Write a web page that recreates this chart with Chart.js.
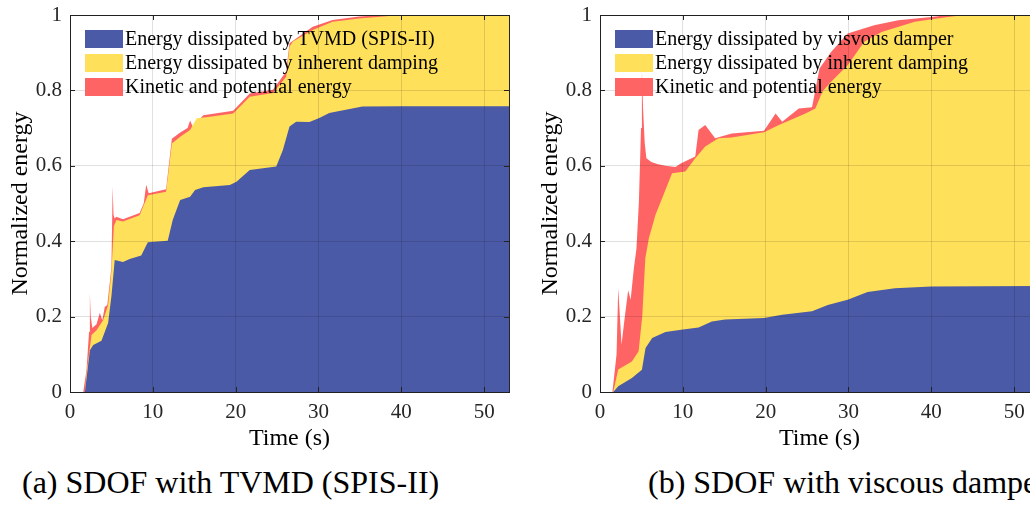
<!DOCTYPE html>
<html>
<head>
<meta charset="utf-8">
<script src="https://cdn.jsdelivr.net/npm/chart.js@4.4.1/dist/chart.umd.min.js"></script>
<style>
  html, body { margin: 0; padding: 0; background: #fff; overflow: hidden; width: 1030px; height: 505px; }
  .wrap { position: absolute; top: 0; width: 530px; height: 450px; }
  #wrapA { left: 0; }
  #wrapB { left: 530px; }
  .cap { position: absolute; top: 463px; font-family: 'Liberation Serif'; font-size: 32px; line-height: 1.2; color: #000; white-space: nowrap; }
</style>
</head>
<body>
<div class="wrap" id="wrapA"><canvas id="chartA" width="530" height="450"></canvas></div>
<div class="wrap" id="wrapB"><canvas id="chartB" width="530" height="450"></canvas></div>
<div class="cap" style="left:22px">(a) SDOF with TVMD (SPIS-II)</div>
<div class="cap" style="left:648px">(b) SDOF with viscous damper</div>
<script>
// axis ticks
const xTicks = [0, 10, 20, 30, 40, 50];
const yTicks = [0, 0.2, 0.4, 0.6, 0.8, 1];
const xMax = 53;

const labelsA = [
  "Energy dissipated by TVMD (SPIS-II)",
  "Energy dissipated by inherent damping",
  "Kinetic and potential energy"
];
const labelsB = [
  "Energy dissipated by visvous damper",
  "Energy dissipated by inherent damping",
  "Kinetic and potential energy"
];

// (a) upper edge of each stacked band
const aBlueT = [0, 1.8, 2.4, 2.8, 3.8, 4.6, 5.0, 5.4, 6.4, 7.2, 8.6, 9.4, 11.8, 12.4, 13.3, 14.5, 15.1, 16.1, 19.3, 20.1, 21.7, 24.9, 25.7, 26.5, 27.3, 28.9, 30.1, 31.3, 35.3, 40, 53];
const aBlue  = [0, 0, 0.111, 0.125, 0.136, 0.183, 0.254, 0.35, 0.345, 0.353, 0.362, 0.397, 0.401, 0.456, 0.509, 0.518, 0.536, 0.543, 0.549, 0.558, 0.589, 0.598, 0.642, 0.704, 0.717, 0.716, 0.727, 0.740, 0.757, 0.758, 0.758];

const aYellowT = [0, 1.8, 2.0, 2.6, 3.2, 4.0, 4.6, 5.0, 5.3, 5.6, 6.4, 8.4, 9.4, 11.6, 12.3, 13.3, 14.5, 15.3, 16.9, 19.7, 21.7, 24.5, 26.1, 26.5, 26.9, 29.3, 31.7, 34.9, 38.9, 41, 53];
const aYellow  = [0, 0, 0.05, 0.151, 0.164, 0.19, 0.23, 0.32, 0.44, 0.456, 0.452, 0.469, 0.522, 0.531, 0.659, 0.677, 0.695, 0.726, 0.730, 0.739, 0.783, 0.793, 0.836, 0.916, 0.93, 0.96, 0.982, 0.991, 0.998, 1, 1];

const aRedT = [0, 1.6, 2.0, 2.3, 2.4, 2.5, 2.7, 3.2, 3.6, 3.9, 4.2, 4.5, 4.8, 5.0, 5.15, 5.25, 5.4, 5.6, 6.4, 8.4, 8.9, 9.2, 9.5, 11.6, 12.3, 13.3, 14.2, 14.5, 14.8, 16.1, 19.7, 21.7, 24.5, 26.1, 26.5, 29.3, 31.7, 34.9, 38, 53];
const aRed  = [0, 0, 0.06, 0.16, 0.262, 0.2, 0.17, 0.18, 0.21, 0.19, 0.226, 0.23, 0.29, 0.33, 0.545, 0.47, 0.46, 0.465, 0.458, 0.475, 0.5, 0.55, 0.527, 0.538, 0.672, 0.688, 0.70, 0.72, 0.705, 0.734, 0.746, 0.792, 0.802, 0.85, 0.925, 0.969, 0.987, 0.996, 1, 1];

// (b)
const bBlueT = [0, 1.6, 2.2, 3.85, 5.06, 5.5, 6.3, 7.9, 9.8, 11.9, 13.5, 15.1, 19.8, 22.0, 25.6, 27.5, 29.9, 32.3, 35.6, 40, 53];
const bBlue  = [0, 0, 0.015, 0.037, 0.059, 0.117, 0.143, 0.159, 0.165, 0.171, 0.187, 0.192, 0.196, 0.205, 0.214, 0.231, 0.245, 0.265, 0.275, 0.280, 0.281];

const bYellowT = [0, 1.6, 2.2, 3.85, 4.66, 5.1, 5.47, 5.9, 6.7, 7.5, 8.7, 10.3, 11.5, 12.7, 14.3, 15.9, 19.8, 21.6, 24.8, 26.0, 26.85, 27.9, 29.9, 31.9, 34, 38, 42, 44, 53];
const bYellow  = [0, 0, 0.06, 0.081, 0.108, 0.2, 0.355, 0.408, 0.47, 0.514, 0.58, 0.585, 0.62, 0.651, 0.673, 0.675, 0.689, 0.708, 0.739, 0.752, 0.797, 0.823, 0.867, 0.929, 0.955, 0.982, 0.995, 1, 1];

const bRedT = [0, 1.5, 2.0, 2.2, 2.4, 2.6, 3.0, 3.4, 3.7, 4.1, 4.4, 4.7, 4.95, 5.06, 5.2, 5.4, 5.6, 6.2, 7.0, 7.9, 9.1, 9.8, 11.5, 11.9, 12.7, 13.9, 15.9, 19.8, 21.2, 22.0, 24.0, 25.6, 26.5, 27.9, 29.9, 33.1, 36, 40, 42, 53];
const bRed  = [0, 0, 0.1, 0.275, 0.2, 0.126, 0.2, 0.27, 0.245, 0.33, 0.38, 0.505, 0.7, 0.854, 0.75, 0.66, 0.62, 0.61, 0.604, 0.60, 0.597, 0.607, 0.625, 0.695, 0.708, 0.673, 0.686, 0.693, 0.739, 0.717, 0.752, 0.755, 0.858, 0.902, 0.951, 0.973, 0.986, 0.995, 1, 1];

const colors = ["#4a5aa6", "#ffe05a", "#ff6464"];
const serif = "Liberation Serif";
const axisColor = "#262626";

function pts(t, v) {
  return t.map((x, i) => ({ x: x, y: v[i] }));
}

// black frame + inward tick marks, matlab style
const boxPlugin = {
  id: "box",
  afterDatasetsDraw(chart) {
    const { ctx, chartArea: a, scales } = chart;
    ctx.save();
    ctx.strokeStyle = axisColor;
    ctx.lineWidth = 1;
    ctx.strokeRect(Math.round(a.left) + 0.5, Math.round(a.top) + 0.5, Math.round(a.right - a.left), Math.round(a.bottom - a.top));
    ctx.beginPath();
    xTicks.forEach(v => {
      const x = Math.round(scales.x.getPixelForValue(v)) + 0.5;
      ctx.moveTo(x, a.bottom); ctx.lineTo(x, a.bottom - 5);
      ctx.moveTo(x, a.top); ctx.lineTo(x, a.top + 5);
    });
    yTicks.forEach(v => {
      const y = Math.round(scales.y.getPixelForValue(v)) + 0.5;
      ctx.moveTo(a.left, y); ctx.lineTo(a.left + 5, y);
      ctx.moveTo(a.right, y); ctx.lineTo(a.right - 5, y);
    });
    ctx.stroke();
    ctx.restore();
  }
};

// legend drawn inside the plot, no frame
const legendPlugin = {
  id: "inlegend",
  afterDraw(chart) {
    const { ctx, chartArea: a } = chart;
    ctx.save();
    ctx.font = "20px '" + serif + "'";
    ctx.textBaseline = "middle";
    chart.data.datasets.forEach((d, i) => {
      const y = a.top + 15 + i * 24;
      ctx.fillStyle = d.backgroundColor;
      ctx.fillRect(a.left + 15, y, 38, 18);
      ctx.fillStyle = "#000";
      ctx.fillText(d.label, a.left + 55, y + 10);
    });
    ctx.restore();
  }
};

function panel(id, labels, series) {
  return new Chart(document.getElementById(id), {
    type: "line",
    data: {
      // blue first so it is painted last (on top); each band fills to zero
      datasets: series.map((s, i) => ({
        label: labels[i],
        data: pts(s[0], s[1]),
        backgroundColor: colors[i],
        borderWidth: 0,
        pointRadius: 0,
        fill: "origin",
        tension: 0
      }))
    },
    options: {
      responsive: false,
      animation: false,
      events: [],
      layout: { padding: { top: 15, right: 21, left: 0, bottom: 0 } },
      plugins: { legend: { display: false }, tooltip: { enabled: false } },
      scales: {
        x: {
          type: "linear",
          min: 0,
          max: xMax,
          afterBuildTicks: s => { s.ticks = xTicks.map(v => ({ value: v })); },
          afterFit: s => { s.height = 58; s.paddingLeft = 0; s.paddingRight = 0; },
          border: { display: false },
          grid: { color: "rgba(0,0,0,0.12)", z: 1, drawTicks: false },
          ticks: { color: axisColor, padding: 8, maxRotation: 0, font: { family: serif, size: 21 }, callback: v => String(v) },
          title: { display: true, text: "Time (s)", color: "#000", padding: { top: 0, bottom: -3 }, font: { family: serif, size: 24 } }
        },
        y: {
          min: 0,
          max: 1,
          afterBuildTicks: s => { s.ticks = yTicks.map(v => ({ value: v })); },
          afterFit: s => { s.width = 70; s.paddingTop = 0; s.paddingBottom = 0; },
          border: { display: false },
          grid: { color: "rgba(0,0,0,0.12)", z: 1, drawTicks: false },
          ticks: { color: axisColor, padding: 8, font: { family: serif, size: 21 }, callback: v => String(v) },
          title: { display: true, text: "Normalized energy", color: "#000", padding: { top: 6, bottom: 0 }, font: { family: serif, size: 24 } }
        }
      }
    },
    plugins: [boxPlugin, legendPlugin]
  });
}

panel("chartA", labelsA, [[aBlueT, aBlue], [aYellowT, aYellow], [aRedT, aRed]]);
panel("chartB", labelsB, [[bBlueT, bBlue], [bYellowT, bYellow], [bRedT, bRed]]);
</script>
</body>
</html>
